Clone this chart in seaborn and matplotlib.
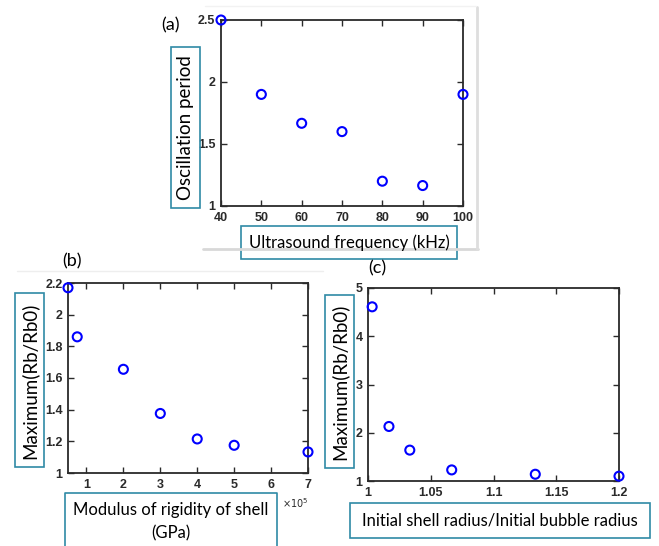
import numpy as np
import pandas as pd
import matplotlib
matplotlib.use("Agg")
import matplotlib.pyplot as plt
import seaborn as sns
from matplotlib.patches import Rectangle
from matplotlib.lines import Line2D

# ---------------- datos ----------------
freq_khz = [40, 50, 60, 70, 80, 90, 100]
osc_period = [2.5, 1.9, 1.667, 1.6, 1.2, 1.165, 1.9]

rigidity = [0.5e5, 0.75e5, 2e5, 3e5, 4e5, 5e5, 7e5]
max_rb_b = [2.17, 1.86, 1.655, 1.376, 1.215, 1.175, 1.133]

radius_ratio = [1.0033, 1.0167, 1.0333, 1.0667, 1.1333, 1.2]
max_rb_c = [4.61, 2.13, 1.64, 1.23, 1.14, 1.10]

sns.set_theme(style="white")
plt.rcParams["font.family"] = ["Liberation Sans", "DejaVu Sans"]

W, H = 659, 546
fig = plt.figure(figsize=(W / 100, H / 100), dpi=100)
fig.patch.set_facecolor("white")

TEAL = "#2f8aa6"
DARK = "#2a2a2a"
LBL_FONT = ["Lato", "DejaVu Sans"]
HSIZE = 12      # etiquetas horizontales
VSIZE = 13.5    # etiquetas verticales


def px_axes(l, t, r, b):
    return fig.add_axes([l / W, (H - b) / H, (r - l) / W, (b - t) / H])


def box(x0, y0, x1, y1, open_bottom=False):
    if open_bottom:
        pts = [(x0, y1), (x0, y0), (x1, y0), (x1, y1)]
        xs = [p[0] / W for p in pts]
        ys = [(H - p[1]) / H for p in pts]
        fig.add_artist(Line2D(xs, ys, color=TEAL, lw=1.2, transform=fig.transFigure))
    else:
        fig.add_artist(Rectangle((x0 / W, (H - y1) / H), (x1 - x0) / W, (y1 - y0) / H,
                                 transform=fig.transFigure, fill=False,
                                 edgecolor=TEAL, lw=1.2))


def ftext(x, y, s, **kw):
    fig.text(x / W, (H - y) / H, s, ha="center", va="center", **kw)


def style(ax, xlim, ylim, xticks, yticks, xlabels, ylabels):
    ax.tick_params(direction="in", length=4, width=1, color=DARK,
                   top=True, right=True, bottom=True, left=True, pad=4)
    ax.set_xlim(*xlim)
    ax.set_ylim(*ylim)
    ax.set_xticks(xticks)
    ax.set_yticks(yticks)
    ax.set_xticklabels(xlabels, fontweight="bold", fontsize=9, color=DARK,
                       family="Liberation Sans")
    ax.set_yticklabels(ylabels, fontweight="bold", fontsize=9, color=DARK,
                       family="Liberation Sans")
    ax.set_xlabel("")
    ax.set_ylabel("")
    for sp in ax.spines.values():
        sp.set_color(DARK)
        sp.set_linewidth(1.3)
        sp.set_visible(True)
    ax.set_facecolor("white")


def scatter(ax, x, y):
    sns.scatterplot(x=x, y=y, ax=ax, s=42, marker="o", facecolors="none",
                    edgecolor="#0000ff", linewidth=1.5, clip_on=False, zorder=5)


# sombra de la tarjeta del panel (a)
fig.add_artist(Line2D([203 / W, 478 / W], [(H - 249) / H] * 2, color="#d8d8d8", lw=2,
                      transform=fig.transFigure))
fig.add_artist(Line2D([477 / W] * 2, [(H - 7) / H, (H - 249) / H], color="#dedede", lw=2,
                      transform=fig.transFigure))
fig.add_artist(Line2D([205 / W, 476 / W], [(H - 6) / H] * 2, color="#f2f2f2", lw=1,
                      transform=fig.transFigure))
fig.add_artist(Line2D([17 / W, 323 / W], [(H - 271) / H] * 2, color="#eeeeee", lw=1,
                      transform=fig.transFigure))

# ---------------- panel (a) ----------------
ax_a = px_axes(221, 20, 463, 206)
scatter(ax_a, freq_khz, osc_period)
style(ax_a, (40, 100), (1, 2.5), [40, 50, 60, 70, 80, 90, 100], [1, 1.5, 2, 2.5],
      ["40", "50", "60", "70", "80", "90", "100"], ["1", "1.5", "2", "2.5"])

# ---------------- panel (b) ----------------
ax_b = px_axes(68, 283, 308, 473)
scatter(ax_b, [r / 1e5 for r in rigidity], max_rb_b)
style(ax_b, (0.5, 7), (1, 2.2), [1, 2, 3, 4, 5, 6, 7],
      [1, 1.2, 1.4, 1.6, 1.8, 2, 2.2],
      ["1", "2", "3", "4", "5", "6", "7"],
      ["1", "1.2", "1.4", "1.6", "1.8", "2", "2.2"])

# ---------------- panel (c) ----------------
ax_c = px_axes(368, 288, 619, 481)
scatter(ax_c, radius_ratio, max_rb_c)
style(ax_c, (1, 1.2), (1, 5), [1, 1.05, 1.1, 1.15, 1.2], [1, 2, 3, 4, 5],
      ["1", "1.05", "1.1", "1.15", "1.2"], ["1", "2", "3", "4", "5"])

# ---------------- etiquetas en cajas ----------------
box(171, 47, 200, 208)
ftext(185.5, 127.5, "Oscillation period", rotation=90, fontsize=VSIZE, family=LBL_FONT, color="black")
box(241, 226, 457, 259)
ftext(349, 242.5, "Ultrasound frequency (kHz)", fontsize=HSIZE, family=LBL_FONT, color="black")

box(15, 293, 44, 467)
ftext(29.5, 381, "Maximum(Rb/Rb0)", rotation=90, fontsize=VSIZE, family=LBL_FONT, color="black")
box(65, 493, 277, 548, open_bottom=True)
ftext(171, 510, "Modulus of rigidity of shell", fontsize=HSIZE, family=LBL_FONT, color="black")
ftext(171, 533, "(GPa)", fontsize=HSIZE, family=LBL_FONT, color="black")
ftext(295, 503, r"$\times10^{5}$", fontsize=7, color=DARK)

box(325, 295, 354, 468)
ftext(339.5, 382, "Maximum(Rb/Rb0)", rotation=90, fontsize=VSIZE, family=LBL_FONT, color="black")
box(350, 503, 650, 538)
ftext(500, 520.5, "Initial shell radius/Initial bubble radius", fontsize=HSIZE, family=LBL_FONT, color="black")

# letras de panel
ftext(170, 25, "(a)", fontsize=13, family=LBL_FONT, color="black")
ftext(72, 261, "(b)", fontsize=13, family=LBL_FONT, color="black")
ftext(377, 268, "(c)", fontsize=13, family=LBL_FONT, color="black")

fig.savefig("out.png", dpi=100)
